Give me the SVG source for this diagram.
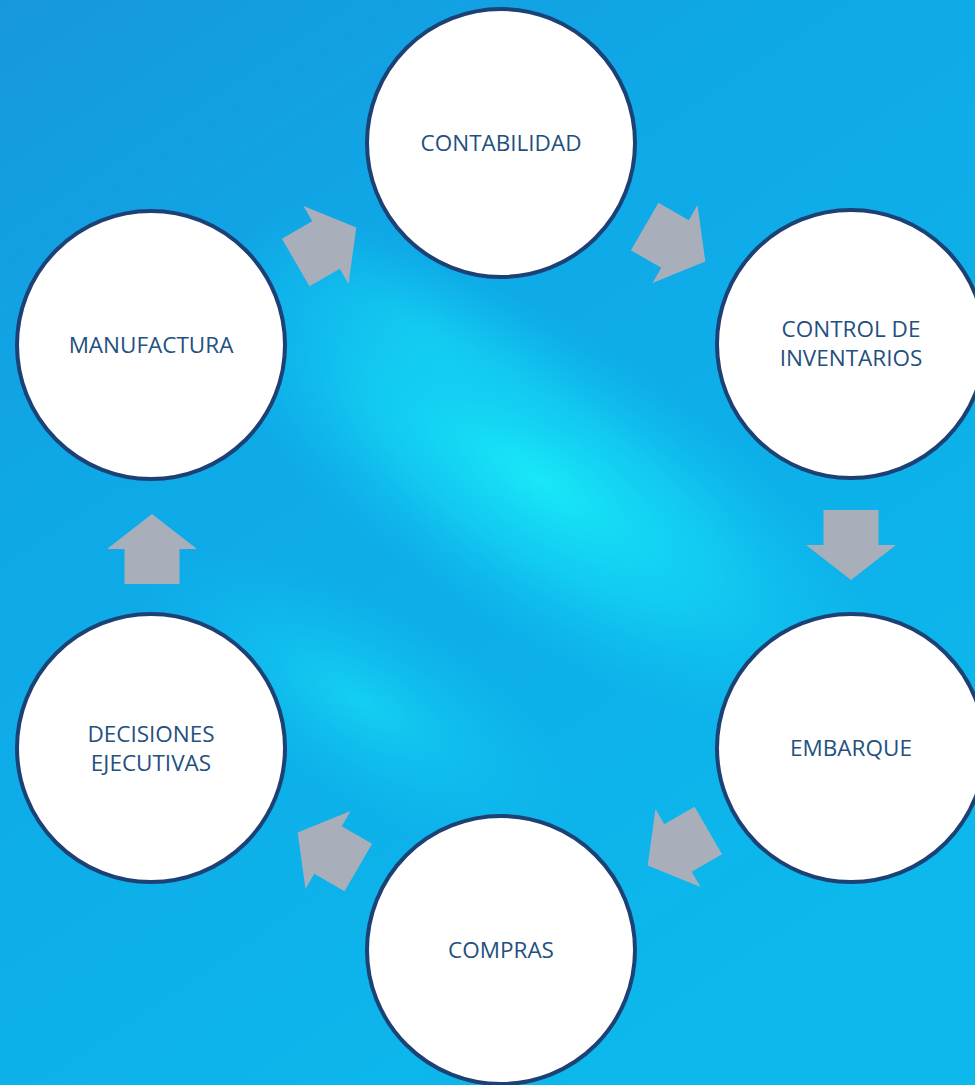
<svg xmlns="http://www.w3.org/2000/svg" width="975" height="1085" viewBox="0 0 975 1085">
  <defs>
    <linearGradient id="bg" x1="0" y1="0" x2="0.6" y2="1">
      <stop offset="0" stop-color="#1797DE"/>
      <stop offset="0.35" stop-color="#0FA8E7"/>
      <stop offset="1" stop-color="#0CB8EC"/>
    </linearGradient>
    <radialGradient id="streak" cx="0.5" cy="0.5" r="0.5">
      <stop offset="0" stop-color="#18E8F8" stop-opacity="1"/>
      <stop offset="0.5" stop-color="#14D8F5" stop-opacity="0.65"/>
      <stop offset="1" stop-color="#10C4F0" stop-opacity="0"/>
    </radialGradient>
    <radialGradient id="glow" cx="0.5" cy="0.5" r="0.5">
      <stop offset="0" stop-color="#16DAF5" stop-opacity="0.75"/>
      <stop offset="1" stop-color="#10C4F0" stop-opacity="0"/>
    </radialGradient>
    <polygon id="arrow" points="-35,-27.5 0,-27.5 0,-45 35,0 0,45 0,27.5 -35,27.5"/>
    <style>
      .node circle { fill: #FFFFFF; stroke: #1C4175; stroke-width: 4; }
      .node text { font-family: "Open Sans", "Noto Sans", "Liberation Sans", sans-serif; font-size: 22.5px; fill: #24507F; text-anchor: middle; }
      #connectors use { fill: #A9AEBB; }
    </style>
  </defs>

  <rect x="0" y="0" width="975" height="1085" fill="url(#bg)"/>
  <ellipse cx="0" cy="0" rx="400" ry="150" fill="url(#streak)" transform="translate(540 480) rotate(33)"/>
  <ellipse cx="0" cy="0" rx="240" ry="100" fill="url(#glow)" transform="translate(360 700) rotate(30)"/>
  <ellipse cx="0" cy="0" rx="200" ry="80" fill="url(#glow)" opacity="0.6" transform="translate(420 330) rotate(30)"/>

  <g id="connectors">
    <use href="#arrow" transform="translate(326 245) rotate(-30)"/>
    <use href="#arrow" transform="translate(675 244) rotate(30)"/>
    <use href="#arrow" transform="translate(851 545) rotate(90)"/>
    <use href="#arrow" transform="translate(678 848) rotate(150)"/>
    <use href="#arrow" transform="translate(328 850) rotate(210)"/>
    <use href="#arrow" transform="translate(152 549) rotate(-90)"/>
  </g>

  <g id="node-contabilidad" class="node">
    <circle cx="501" cy="143" r="134"/>
    <text x="501" y="151">CONTABILIDAD</text>
  </g>
  <g id="node-control" class="node">
    <circle cx="851" cy="344" r="134"/>
    <text x="851" y="337">CONTROL DE</text>
    <text x="851" y="366">INVENTARIOS</text>
  </g>
  <g id="node-embarque" class="node">
    <circle cx="851" cy="748" r="134"/>
    <text x="851" y="756">EMBARQUE</text>
  </g>
  <g id="node-compras" class="node">
    <circle cx="501" cy="950" r="134"/>
    <text x="501" y="958">COMPRAS</text>
  </g>
  <g id="node-decisiones" class="node">
    <circle cx="151" cy="748" r="134"/>
    <text x="151" y="742">DECISIONES</text>
    <text x="151" y="771">EJECUTIVAS</text>
  </g>
  <g id="node-manufactura" class="node">
    <circle cx="151" cy="345" r="134"/>
    <text x="151" y="353">MANUFACTURA</text>
  </g>
</svg>
